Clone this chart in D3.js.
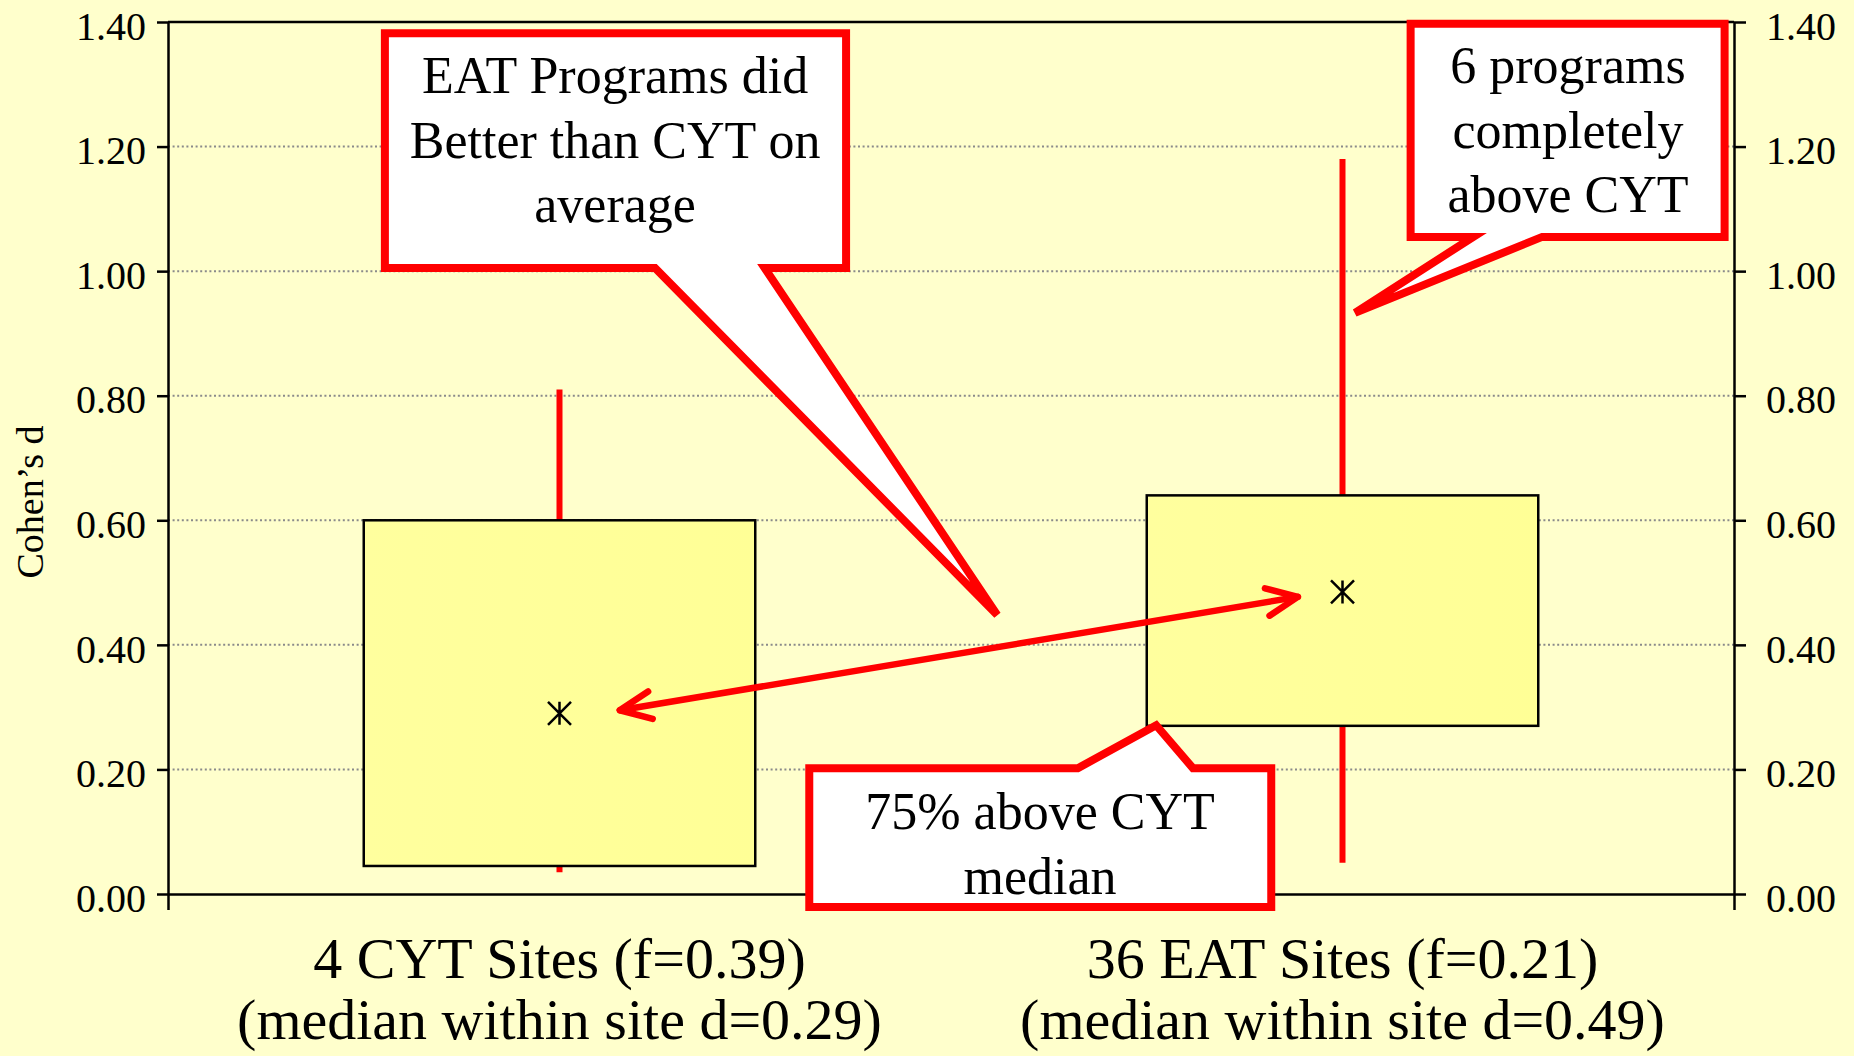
<!DOCTYPE html>
<html>
<head>
<meta charset="utf-8">
<script src="https://cdn.jsdelivr.net/npm/d3@7"></script>
<style>
  body { margin: 0; background: #FFFFCC; }
  svg { display: block; font-family: "Liberation Serif", "Times New Roman", serif; }
</style>
</head>
<body>
<svg width="1854" height="1056"></svg>
<script>
// data
var categories = ["4 CYT Sites (f=0.39)", "36 EAT Sites (f=0.21)"];
var medianLabels = ["(median within site d=0.29)", "(median within site d=0.49)"];
var whiskerLow = [0.035, 0.05];
var boxLow = [0.045, 0.27];
var medianVal = [0.29, 0.485];
var boxHigh = [0.60, 0.64];
var whiskerHigh = [0.81, 1.18];
var yTicks = [0, 0.2, 0.4, 0.6, 0.8, 1.0, 1.2, 1.4];

var svg = d3.select("svg");
var W = 1854, H = 1056;
var margin = {top: 22, right: 120, bottom: 162, left: 168};
var x0 = margin.left, x1 = W - margin.right, y0 = H - margin.bottom, y1 = margin.top;

svg.append("rect").attr("width", W).attr("height", H).attr("fill", "#FFFFCC");

var y = d3.scaleLinear().domain([0, 1.4]).range([y0, y1]);
var x = d3.scaleBand().domain(categories).range([x0, x1]).padding(0);
// category units: 0..2, used for the notes
var u = d3.scaleLinear().domain([0, 2]).range([x0, x1]);

// grid
svg.append("g").selectAll("line")
  .data(yTicks.filter(function(d) { return d > 0 && d < 1.4; }))
  .enter().append("line")
  .attr("x1", x0).attr("x2", x1)
  .attr("y1", function(d) { return y(d); }).attr("y2", function(d) { return y(d); })
  .attr("stroke", "#8a8a8a").attr("stroke-width", 2).attr("stroke-dasharray", "2,2.6");

var rows = categories.map(function(c, i) {
  return {name: c, wl: whiskerLow[i], bl: boxLow[i], med: medianVal[i], bh: boxHigh[i], wh: whiskerHigh[i]};
});
var cx = function(d) { return x(d.name) + x.bandwidth() / 2; };

// whiskers
svg.append("g").selectAll("line").data(rows).enter().append("line")
  .attr("x1", cx).attr("x2", cx)
  .attr("y1", function(d) { return y(d.wl); })
  .attr("y2", function(d) { return y(d.wh); })
  .attr("stroke", "#FF0000").attr("stroke-width", 6);

// boxes
var grad = svg.append("defs").append("linearGradient").attr("id", "boxfill")
  .attr("x1", "0").attr("y1", "0").attr("x2", "1").attr("y2", "0");
grad.append("stop").attr("offset", "0").attr("stop-color", "#FFFF9E");
grad.append("stop").attr("offset", "1").attr("stop-color", "#FFFF96");

svg.append("g").selectAll("rect").data(rows).enter().append("rect")
  .attr("x", function(d) { return cx(d) - x.bandwidth() / 4; })
  .attr("width", x.bandwidth() / 2)
  .attr("y", function(d) { return y(d.bh); })
  .attr("height", function(d) { return y(d.bl) - y(d.bh); })
  .attr("fill", "url(#boxfill)")
  .attr("stroke", "#000").attr("stroke-width", 2.5);

// median markers
svg.append("g").selectAll("path").data(rows).enter().append("path")
  .attr("d", function(d) {
    var px = cx(d), py = y(d.med), s = 11.5;
    return "M" + (px - s) + "," + (py - s) + "L" + (px + s) + "," + (py + s) +
      "M" + (px + s) + "," + (py - s) + "L" + (px - s) + "," + (py + s) +
      "M" + px + "," + (py - s) + "L" + px + "," + (py + s);
  })
  .attr("stroke", "#000").attr("stroke-width", 2.5).attr("fill", "none");

// plot frame and axes
svg.append("line").attr("x1", x0).attr("x2", x1).attr("y1", y1).attr("y2", y1)
  .attr("stroke", "#000").attr("stroke-width", 2.5);

var fmt = d3.format(".2f");
var left = svg.append("g").attr("transform", "translate(" + x0 + ",0)")
  .call(d3.axisLeft(y).tickValues(yTicks).tickFormat(fmt).tickSize(11).tickSizeOuter(0).tickPadding(11));
var right = svg.append("g").attr("transform", "translate(" + x1 + ",0)")
  .call(d3.axisRight(y).tickValues(yTicks).tickFormat(fmt).tickSize(12).tickSizeOuter(0).tickPadding(20));
var bottom = svg.append("g").attr("transform", "translate(0," + y0 + ")")
  .call(d3.axisBottom(u).tickValues([0, 1, 2]).tickFormat("").tickSize(16).tickSizeOuter(0));

[left, right, bottom].forEach(function(g) {
  g.selectAll("path, line").attr("stroke", "#000").attr("stroke-width", 2.5);
  g.selectAll("text").attr("font-size", 40).attr("font-family", "Liberation Serif")
    .attr("fill", "#000").attr("dy", "0.43em");
});

// category labels
var lab = svg.append("g").attr("font-size", 58).attr("text-anchor", "middle");
lab.selectAll("text.cat").data(categories).enter().append("text")
  .attr("x", function(d) { return x(d) + x.bandwidth() / 2; })
  .attr("y", 978).text(function(d) { return d; });
lab.selectAll("text.med").data(medianLabels).enter().append("text")
  .attr("x", function(d, i) { return x(categories[i]) + x.bandwidth() / 2; })
  .attr("y", 1039).text(function(d) { return d; });

// y title
svg.append("text").attr("transform", "translate(43," + ((y0 + y1) / 2 + 44) + ") rotate(-90)")
  .attr("text-anchor", "middle").attr("font-size", 38).text("Cohen\u2019s d");

// call-out notes, positions in category units / Cohen's d values
function callout(pts, lines, tx, ty) {
  var g = svg.append("g");
  g.append("path")
    .attr("d", d3.line()(pts.map(function(p) { return [u(p[0]), y(p[1])]; })) + "Z")
    .attr("fill", "#fff").attr("stroke", "#FF0000").attr("stroke-width", 8)
    .attr("stroke-linejoin", "miter");
  g.selectAll("text").data(lines).enter().append("text")
    .attr("x", u(tx)).attr("y", function(d, i) { return y(ty) + i * 64.5; })
    .attr("text-anchor", "middle").attr("font-size", 52).text(function(d) { return d; });
}

callout([[0.277, 1.382], [0.866, 1.382], [0.866, 1.005], [0.762, 1.005], [1.059, 0.448], [0.622, 1.005], [0.277, 1.005]],
  ["EAT Programs did", "Better than CYT on", "average"], 0.571, 1.286);

callout([[1.587, 1.397], [1.988, 1.397], [1.988, 1.055], [1.755, 1.055], [1.516, 0.933], [1.667, 1.055], [1.587, 1.055]],
  ["6 programs", "completely", "above CYT"], 1.788, 1.302);

// double-headed arrow between the medians
var a = [u(0.577), y(0.295)], b = [u(1.443), y(0.477)];
var arrow = svg.append("g").attr("stroke", "#FF0000").attr("stroke-width", 6.5)
  .attr("fill", "none").attr("stroke-linecap", "round").attr("stroke-linejoin", "round");
arrow.append("line").attr("x1", a[0]).attr("y1", a[1]).attr("x2", b[0]).attr("y2", b[1]);
function head(tip, from) {
  var ang = Math.atan2(from[1] - tip[1], from[0] - tip[0]), len = 34, spread = 0.42;
  var p1 = [tip[0] + len * Math.cos(ang - spread), tip[1] + len * Math.sin(ang - spread)];
  var p2 = [tip[0] + len * Math.cos(ang + spread), tip[1] + len * Math.sin(ang + spread)];
  arrow.append("path").attr("d", d3.line()([p1, tip, p2]));
}
head(a, b);
head(b, a);

callout([[0.819, 0.202], [1.162, 0.202], [1.262, 0.271], [1.309, 0.202], [1.409, 0.202], [1.409, -0.021], [0.819, -0.021]],
  ["75% above CYT", "median"], 1.1137, 0.104);
</script>
</body>
</html>
